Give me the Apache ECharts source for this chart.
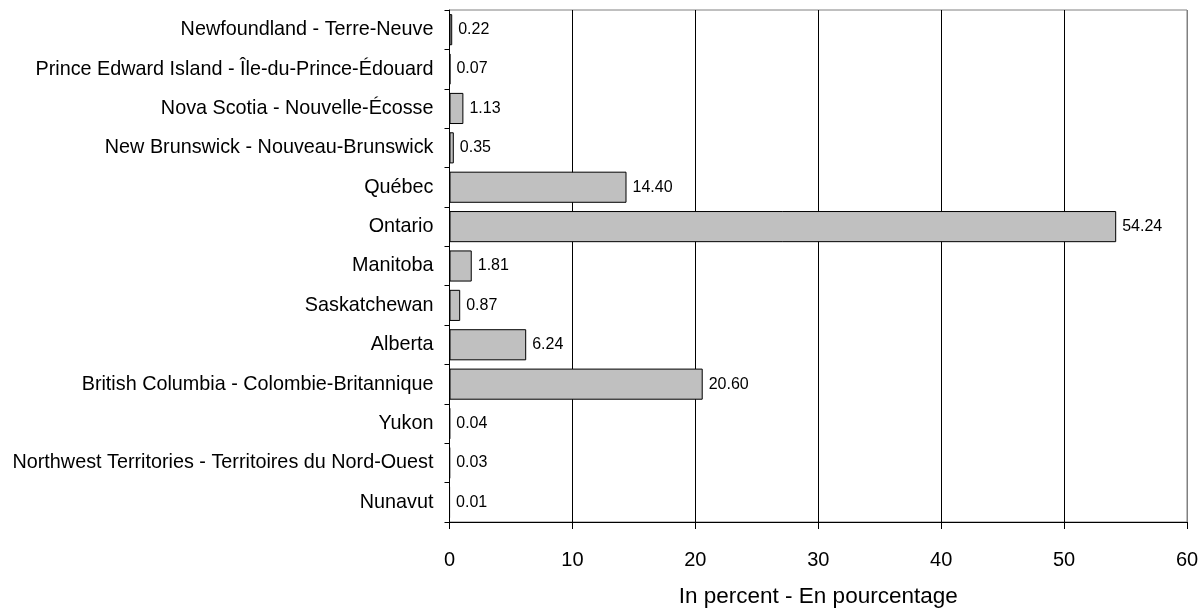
<!DOCTYPE html>
<html>
<head>
<meta charset="utf-8">
<script src="https://cdn.jsdelivr.net/npm/echarts@6/dist/echarts.min.js"></script>
<style>html,body{margin:0;padding:0;background:#fff}#c{width:1202px;height:608px}</style>
</head>
<body>
<div id="c"></div>
<script>
var categories = [
  "Newfoundland - Terre-Neuve",
  "Prince Edward Island - Île-du-Prince-Édouard",
  "Nova Scotia - Nouvelle-Écosse",
  "New Brunswick - Nouveau-Brunswick",
  "Québec",
  "Ontario",
  "Manitoba",
  "Saskatchewan",
  "Alberta",
  "British Columbia - Colombie-Britannique",
  "Yukon",
  "Northwest Territories - Territoires du Nord-Ouest",
  "Nunavut"
];
var values = [0.22, 0.07, 1.13, 0.35, 14.40, 54.24, 1.81, 0.87, 6.24, 20.60, 0.04, 0.03, 0.01];
var axisTitle = "In percent - En pourcentage";

var chart = echarts.init(document.getElementById('c'), null, {renderer: 'canvas'});
var font = 'Liberation Sans, Arial, sans-serif';
chart.setOption({
  animation: false,
  textStyle: {fontFamily: font},
  grid: {left: 449.5, right: 15, top: 10, bottom: 86, show: true, borderColor: '#808080', borderWidth: 1,
    containLabel: false, outerBoundsMode: 'none'},
  xAxis: {
    type: 'value', min: 0, max: 60, interval: 10,
    axisLine: {show: true, lineStyle: {color: '#000', width: 1}},
    axisTick: {show: true, length: 7, lineStyle: {color: '#000'}},
    axisLabel: {color: '#000', fontSize: 20, margin: 28, fontFamily: font},
    splitLine: {show: true, lineStyle: {color: ['#000','#000','#000','#000','#000','#000','#808080'], width: 1}},
    name: axisTitle, nameLocation: 'middle', nameGap: 63,
    nameTextStyle: {color: '#000', fontSize: 22.5, fontFamily: font}
  },
  yAxis: {
    type: 'category', data: categories, inverse: true,
    axisLine: {show: true, lineStyle: {color: '#000', width: 1}},
    axisTick: {show: true, length: 5, lineStyle: {color: '#000'}},
    axisLabel: {color: '#000', fontSize: 19.8, margin: 16, fontFamily: font}
  },
  series: [{
    type: 'bar', data: values, barCategoryGap: '21%',
    itemStyle: {color: '#c0c0c0', borderColor: '#000', borderWidth: 1},
    label: {show: true, position: 'right', distance: 6, color: '#000', fontSize: 16, fontFamily: font,
      formatter: function (p) { return p.value.toFixed(2); }}
  }]
});
</script>
</body>
</html>
